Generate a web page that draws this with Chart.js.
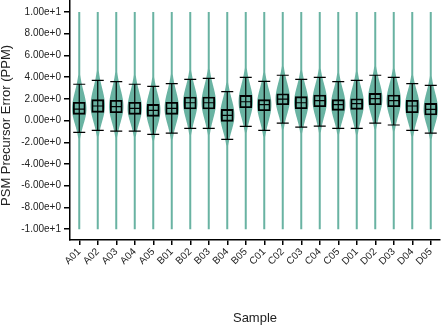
<!DOCTYPE html>
<html><head><meta charset="utf-8">
<script src="https://cdn.jsdelivr.net/npm/chart.js@4.4.1/dist/chart.umd.min.js"></script>
<style>html,body{margin:0;padding:0;background:#fff}</style>
</head><body>
<canvas id="c" width="441" height="328"></canvas>
<script>
const categories = ['A01','A02','A03','A04','A05','B01','B02','B03','B04','B05','C01','C02','C03','C04','C05','D01','D02','D03','D04','D05'];
const whiskerHigh = [3.34,3.70,3.58,3.34,3.15,3.40,3.80,3.89,2.66,3.98,3.61,4.17,3.80,3.98,3.58,3.70,4.17,3.98,3.40,3.24];
const q3Values    = [1.68,1.92,1.86,1.68,1.49,1.68,2.17,2.17,1.03,2.32,1.92,2.47,2.20,2.35,1.92,2.01,2.50,2.35,1.86,1.58];
const medians     = [1.06,1.34,1.28,1.12,0.94,1.12,1.64,1.64,0.48,1.73,1.46,1.98,1.64,1.83,1.46,1.55,2.01,1.83,1.34,1.03];
const q1Values    = [0.57,0.75,0.72,0.57,0.39,0.57,1.06,1.06,-0.07,1.18,0.90,1.46,1.09,1.27,0.94,1.03,1.46,1.27,0.72,0.51];
const whiskerLow  = [-1.09,-0.90,-0.97,-0.97,-1.27,-1.15,-0.72,-0.72,-1.73,-0.53,-0.90,-0.23,-0.60,-0.51,-0.72,-0.72,-0.23,-0.41,-0.90,-1.15];
const rangeMin = -10, rangeMax = 10;
const yTicks = [-10,-8,-6,-4,-2,0,2,4,6,8,10];

const GREEN = '#69b3a2';
const FONT = "'Liberation Sans', Arial, sans-serif";

const violinPlugin = {
  id: 'violins',
  beforeDatasetsDraw(chart) {
    const ctx = chart.ctx, xs = chart.scales.x, ys = chart.scales.y;
    ctx.save();
    categories.forEach((c, i) => {
      const x = xs.getPixelForValue(i);
      const med = medians[i];
      const sUp = (whiskerHigh[i] - med) * 0.7;
      const sDn = (med - whiskerLow[i]) * 0.64;
      const pts = [];
      for (let v = rangeMin; v <= rangeMax + 1e-9; v += 0.05) {
        const s = v > med ? sUp : sDn;
        const d = (v - med) / s;
        const hw = Math.max(1.0, 7.2 * Math.exp(-0.5 * d * d));
        pts.push([ys.getPixelForValue(v), hw]);
      }
      ctx.beginPath();
      pts.forEach((p, k) => { k ? ctx.lineTo(x + p[1], p[0]) : ctx.moveTo(x + p[1], p[0]); });
      for (let k = pts.length - 1; k >= 0; k--) ctx.lineTo(x - pts[k][1], pts[k][0]);
      ctx.closePath();
      ctx.fillStyle = GREEN;
      ctx.fill();
    });
    ctx.restore();
  },
  afterDatasetsDraw(chart) {
    const ctx = chart.ctx, xs = chart.scales.x, ys = chart.scales.y;
    ctx.save();
    ctx.strokeStyle = '#000';
    ctx.lineWidth = 1.2;
    categories.forEach((c, i) => {
      const x = xs.getPixelForValue(i);
      const yh = ys.getPixelForValue(whiskerHigh[i]);
      const yl = ys.getPixelForValue(whiskerLow[i]);
      const ym = ys.getPixelForValue(medians[i]);
      ctx.beginPath();
      ctx.moveTo(x, yh); ctx.lineTo(x, yl);
      ctx.moveTo(x - 6, yh); ctx.lineTo(x + 6, yh);
      ctx.moveTo(x - 6, yl); ctx.lineTo(x + 6, yl);
      ctx.moveTo(x - 5.5, ym); ctx.lineTo(x + 5.5, ym);
      ctx.stroke();
    });
    ctx.restore();
  }
};

new Chart(document.getElementById('c'), {
  type: 'bar',
  data: {
    labels: categories,
    datasets: [{
      data: categories.map((c, i) => [q1Values[i], q3Values[i]]),
      backgroundColor: 'rgba(0,0,0,0)',
      borderColor: '#000',
      borderWidth: 1.2,
      borderSkipped: false,
      barThickness: 12
    }]
  },
  options: {
    responsive: false,
    animation: false,
    devicePixelRatio: 1,
    layout: { padding: { top: 0, right: 1, left: 0, bottom: 0 } },
    plugins: { legend: { display: false }, tooltip: { enabled: false } },
    scales: {
      x: {
        type: 'category',
        offset: true,
        grid: { display: true, drawOnChartArea: false, drawTicks: true, tickLength: 5, color: '#000', offset: false, lineWidth: 1.5 },
        border: { display: true, color: '#000', width: 1.5 },
        ticks: { font: { size: 10, family: FONT }, color: '#222', minRotation: 45, maxRotation: 45, autoSkip: false, padding: 1 },
        title: { display: true, text: 'Sample', font: { size: 13, family: FONT }, color: '#222', padding: { top: 0, bottom: 2 } },
        afterFit(s) { s.height = 88; s.paddingLeft = 0; s.paddingRight = 0; }
      },
      y: {
        type: 'linear',
        min: -11, max: 11.1,
        afterBuildTicks(s) { s.ticks = yTicks.map(v => ({ value: v })); },
        grid: { display: true, drawOnChartArea: false, drawTicks: true, tickLength: 6, color: '#000', lineWidth: 1.5 },
        border: { display: true, color: '#000', width: 1.5 },
        ticks: { font: { size: 10, family: FONT }, color: '#222', padding: 3, callback: v => Number(v).toExponential(2) },
        title: { display: true, text: 'PSM Precursor Error (PPM)   ', font: { size: 13, family: FONT, lineHeight: 1 }, color: '#222', padding: { top: 0, bottom: 0 } },
        afterFit(s) { s.width = 70; s.paddingTop = 0; s.paddingBottom = 0; }
      }
    }
  },
  plugins: [violinPlugin]
});
</script>
</body></html>
